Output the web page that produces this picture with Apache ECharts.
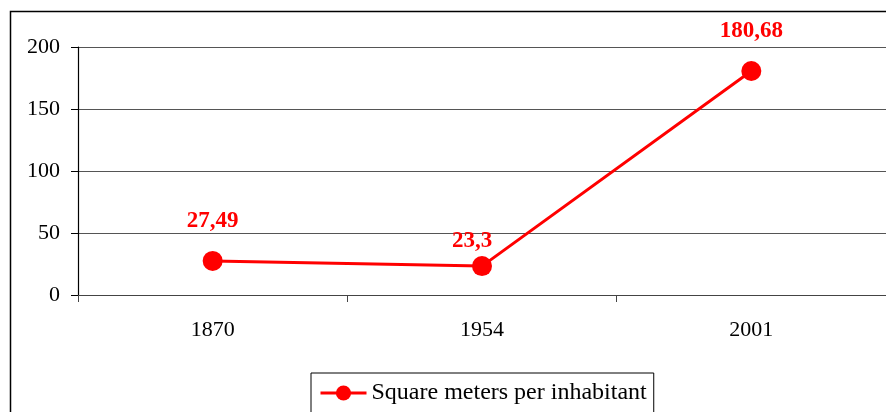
<!DOCTYPE html>
<html><head><meta charset="utf-8">
<script src="https://cdn.jsdelivr.net/npm/echarts@6/dist/echarts.min.js"></script>
<style>html,body{margin:0;padding:0;background:#fff}#c{width:886px;height:412px}</style>
</head><body><div id="c"></div>
<script>
const categories = ['1870', '1954', '2001'];
const values = [27.49, 23.3, 180.68];
const valueLabels = ['27,49', '23,3', '180,68'];
const seriesName = 'Square meters per inhabitant';
const yTicks = [0, 50, 100, 150, 200];

// label offsets (style only)
const labelOffsets = [[0, -4], [-10, 10], [0, -4]];

const font = 'Liberation Serif';
const chart = echarts.init(document.getElementById('c'));
chart.setOption({
  animation: false,
  backgroundColor: '#fff',
  graphic: [{
    type: 'rect', left: 8, top: 9, silent: true,
    shape: { width: 900, height: 420 },
    style: { fill: 'none', stroke: '#000', lineWidth: 1.5 }
  }],
  grid: { left: 78, right: -2, top: 47, bottom: 117, containLabel: false },
  xAxis: {
    type: 'category', data: categories, boundaryGap: true,
    axisLine: { show: true, lineStyle: { color: '#444', width: 1.2 } },
    axisTick: { show: true, length: 7, lineStyle: { color: '#444' } },
    axisLabel: { fontFamily: font, fontSize: 22, color: '#000', margin: 24 }
  },
  yAxis: {
    type: 'value', min: yTicks[0], max: yTicks[yTicks.length - 1], interval: 50,
    axisLine: { show: true, lineStyle: { color: '#000', width: 1.2 } },
    axisTick: { show: true, length: 7, lineStyle: { color: '#000' } },
    axisLabel: { fontFamily: font, fontSize: 22, color: '#000', margin: 18 },
    splitLine: { show: true, lineStyle: { color: '#555', width: 1.2 } }
  },
  legend: {
    show: true, top: 373, left: 311,
    data: [seriesName],
    borderColor: '#000', borderWidth: 1, padding: [8, 7, 12, 8],
    itemWidth: 46, itemHeight: 19, itemGap: 5,
    lineStyle: { width: 3 },
    textStyle: { fontFamily: font, fontSize: 24, color: '#000' }
  },
  series: [{
    name: seriesName, type: 'line',
    data: values.map((v, i) => ({
      value: v,
      label: { offset: labelOffsets[i], formatter: valueLabels[i] }
    })),
    symbol: 'circle', symbolSize: 20,
    lineStyle: { color: '#ff0000', width: 3 },
    itemStyle: { color: '#ff0000' },
    label: {
      show: true, position: 'top', distance: 14,
      fontFamily: font, fontSize: 23, fontWeight: 'bold', color: '#ff0000'
    }
  }]
});
</script></body></html>
